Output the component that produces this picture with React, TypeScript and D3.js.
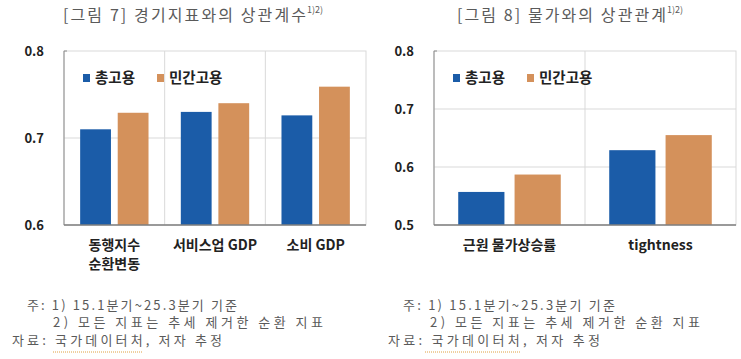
import React from "react";
import * as d3 from "d3";

const seriesNames = ["총고용", "민간고용"];
const seriesColors = ["#1b5ca8", "#d4915b"];

const leftTitle = "[그림 7] 경기지표와의 상관계수";
const leftCategories = ["동행지수\n순환변동", "서비스업 GDP", "소비 GDP"];
const leftTotal = [0.71, 0.73, 0.726];
const leftPrivate = [0.729, 0.74, 0.759];
const leftTicks = [0.6, 0.7, 0.8];

const rightTitle = "[그림 8] 물가와의 상관관계";
const rightCategories = ["근원 물가상승률", "tightness"];
const rightTotal = [0.557, 0.629];
const rightPrivate = [0.587, 0.655];
const rightTicks = [0.5, 0.6, 0.7, 0.8];

const note1 = "주: 1) 15.1분기~25.3분기  기준";
const note2 = "2) 모든 지표는 추세 제거한 순환 지표";
const note3 = "자료: 국가데이터처, 저자 추정";

const FONT = "'Noto Sans CJK KR', 'Noto Sans', sans-serif";
const GRAY = "#5a5a5a";

type PanelProps = {
  ox: number;
  x0: number;
  x1: number;
  title: string;
  titleW: number;
  categories: string[];
  total: number[];
  priv: number[];
  ticks: number[];
  notes: { x: number; w: number }[];
  underline: [number, number];
};

function Panel(p: PanelProps) {
  const top = 51;
  const bottom = 225;
  const y = d3
    .scaleLinear()
    .domain([p.ticks[0], p.ticks[p.ticks.length - 1]])
    .range([bottom, top]);
  const x = d3.scaleBand<string>().domain(p.categories).range([p.x0, p.x1]).padding(0);
  const inner = d3
    .scaleBand<string>()
    .domain(["0", "1"])
    .range([0, x.bandwidth()])
    .paddingInner(0.18)
    .paddingOuter(0.43);
  const series = [p.total, p.priv];
  const legendX = p.x0 + 19;
  return (
    <g>
      <text x={p.ox} y={21} fontSize={16} fill={GRAY} fontFamily={FONT} textLength={p.titleW} lengthAdjust="spacing">
        {p.title}
      </text>
      <text x={p.ox + p.titleW + 1} y={13} fontSize={9} fill={GRAY} fontFamily={FONT}>
        1)2)
      </text>
      <rect x={p.x0} y={top} width={p.x1 - p.x0} height={bottom - top} fill="none" stroke="#d9d9d9" strokeWidth={1} />
      {p.ticks.slice(1, -1).map((t) => (
        <line key={t} x1={p.x0} x2={p.x1} y1={y(t)} y2={y(t)} stroke="#d9d9d9" strokeWidth={1} />
      ))}
      {p.categories.slice(1).map((c) => (
        <line key={c} x1={x(c)!} x2={x(c)!} y1={top} y2={bottom} stroke="#d9d9d9" strokeWidth={1} />
      ))}
      <line x1={p.x0} x2={p.x0} y1={top} y2={bottom} stroke="#8c8c8c" strokeWidth={1} />
      <line x1={p.x0} x2={p.x0 + 3} y1={top} y2={top} stroke="#8c8c8c" strokeWidth={1} />
      {p.categories.map((c, i) =>
        series.map((s, k) => (
          <rect
            key={c + k}
            x={x(c)! + inner(String(k))!}
            y={y(s[i])}
            width={inner.bandwidth()}
            height={bottom - y(s[i])}
            fill={seriesColors[k]}
          />
        ))
      )}
      <line x1={p.x0} x2={p.x1} y1={bottom} y2={bottom} stroke="#7f7f7f" strokeWidth={1.5} />
      {p.ticks.map((t) => (
        <text key={t} x={p.x0 - 20} y={y(t)} dy="0.35em" textAnchor="end" fontSize={13} fontWeight="bold" fill="#222" fontFamily={FONT}>
          {d3.format(".1f")(t)}
        </text>
      ))}
      {p.categories.map((c) =>
        c.split("\n").map((line, j) => (
          <text
            key={c + j}
            x={x(c)! + x.bandwidth() / 2}
            y={250 + j * 19}
            textAnchor="middle"
            fontSize={14}
            fontWeight="bold"
            fill="#222"
            fontFamily={FONT}
          >
            {line}
          </text>
        ))
      )}
      {seriesNames.map((n, k) => {
        const lx = legendX + k * 74;
        return (
          <g key={n}>
            <rect x={lx} y={74} width={7} height={8} fill={seriesColors[k]} />
            <text x={lx + 12} y={83} fontSize={14.5} fontWeight="bold" fill="#222" fontFamily={FONT}>
              {n}
            </text>
          </g>
        );
      })}
      {[note1, note2, note3].map((n, i) => (
        <text
          key={i}
          x={p.notes[i].x}
          y={309.5 + i * 17.5}
          fontSize={13}
          fill={GRAY}
          fontFamily={FONT}
          textLength={p.notes[i].w}
          lengthAdjust="spacing"
        >
          {n}
        </text>
      ))}
      <line
        x1={p.underline[0]}
        x2={p.underline[1]}
        y1={352}
        y2={352}
        stroke="#e0a040"
        strokeWidth={1}
        strokeDasharray="1,1"
      />
    </g>
  );
}

export default function App() {
  return (
    <svg width={741} height={359} style={{ position: "absolute", left: 0, top: 0, background: "#fff" }}>
      <rect width={741} height={359} fill="#fff" />
      <Panel
        ox={63}
        x0={64}
        x1={366}
        title={leftTitle}
        titleW={243}
        categories={leftCategories}
        total={leftTotal}
        priv={leftPrivate}
        ticks={leftTicks}
        notes={[
          { x: 27, w: 210 },
          { x: 53, w: 270 },
          { x: 12, w: 210 },
        ]}
        underline={[53, 143]}
      />
      <Panel
        ox={457}
        x0={434}
        x1={736}
        title={rightTitle}
        titleW={209}
        categories={rightCategories}
        total={rightTotal}
        priv={rightPrivate}
        ticks={rightTicks}
        notes={[
          { x: 403, w: 212 },
          { x: 430, w: 270 },
          { x: 388, w: 212 },
        ]}
        underline={[425, 520]}
      />
    </svg>
  );
}
